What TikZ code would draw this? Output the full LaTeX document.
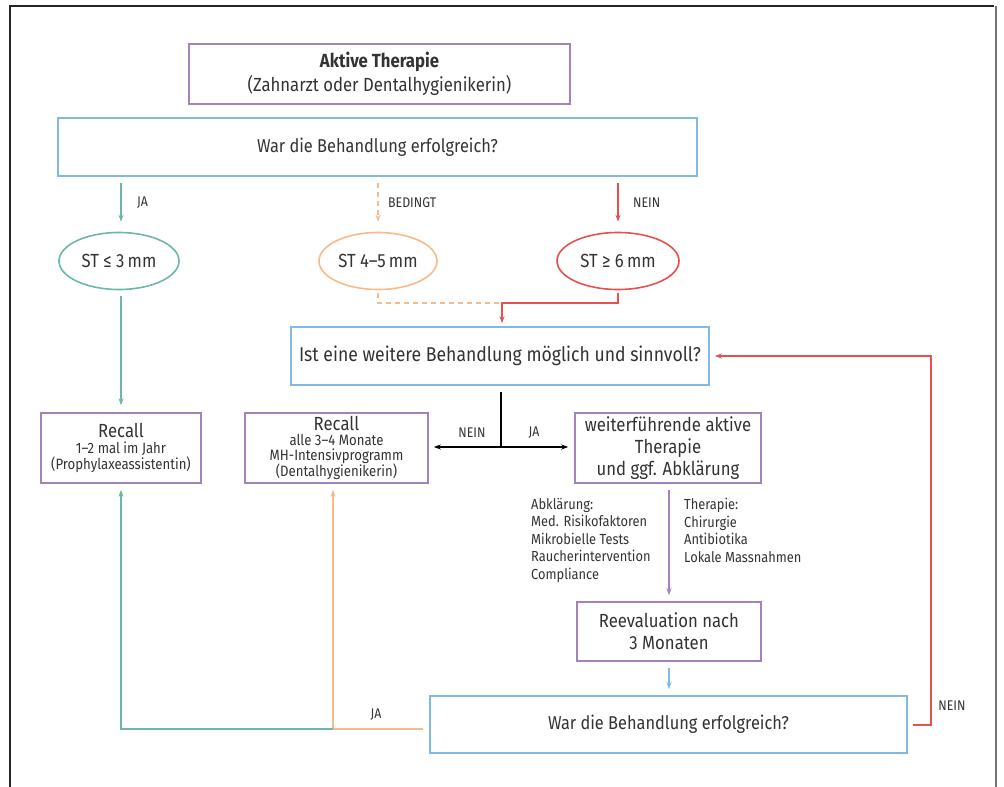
\documentclass[tikz,border=0pt]{standalone}
\usepackage{fontspec}
\setmainfont{Fira Sans}[FakeStretch=0.88]
\usetikzlibrary{arrows.meta,shapes.geometric}
\definecolor{cteal}{HTML}{6BB8A9}
\definecolor{corange}{HTML}{F8B98B}
\definecolor{cred}{HTML}{E8504F}
\definecolor{cblue}{HTML}{80B9E4}
\definecolor{cpurple}{HTML}{A283BE}
\definecolor{ctext}{HTML}{333333}
\tikzset{
  box/.style={draw=#1, line width=1.6pt, rectangle, text=ctext, align=center, inner sep=0pt},
  oval/.style={draw=#1, line width=1.6pt, ellipse, text=ctext, inner sep=0pt, font=\fontsize{19}{21}\selectfont},
  conn/.style={draw=#1, line width=1.6pt},
  arr/.style={conn=#1, -{Stealth[length=7pt,width=5pt]}},
  lbl/.style={text=ctext, font=\fontsize{14}{16}\selectfont, inner sep=0pt},
  main/.style={font=\fontsize{18.6}{22}\selectfont},
  listtxt/.style={text=ctext, align=left, anchor=north west, inner sep=0pt, font=\fontsize{14.6}{17.5}\selectfont},
}
\begin{document}
\begin{tikzpicture}[x=1pt,y=-1pt]
\useasboundingbox (0,0) rectangle (1004,787);
% frame
\draw[black!85, line width=1.4pt] (10,787) -- (10,6) -- (994,6);
\draw[black!55, line width=2pt] (996,6) -- (996,787);

% nodes
\node[box=cpurple, minimum width=381pt, minimum height=60pt, font=\fontsize{19}{24}\selectfont] (top) at (379.5,74)
  {\textbf{Aktive Therapie}\\(Zahnarzt oder Dentalhygienikerin)};
\node[box=cblue, main, minimum width=639pt, minimum height=58pt] (q1) at (377.5,147) {War die Behandlung erfolgreich?};
\node[oval=cteal, minimum width=120pt, minimum height=57pt] (e1) at (119,261) {ST ≤ 3\,mm};
\node[oval=corange, minimum width=118pt, minimum height=57pt] (e2) at (378,261) {ST 4–5\,mm};
\node[oval=cred, minimum width=122pt, minimum height=57pt] (e3) at (618,261) {ST ≥ 6\,mm};
\node[box=cblue, font=\fontsize{20}{22}\selectfont, minimum width=418pt, minimum height=58pt] (q2) at (500,356) {Ist eine weitere Behandlung möglich und sinnvoll?};
\node[box=cpurple, minimum width=160pt, minimum height=70pt, font=\fontsize{15}{16}\selectfont] (r1) at (121,448)
  {{\fontsize{19}{20}\selectfont Recall}\\1–2 mal im Jahr\\(Prophylaxeassistentin)};
\node[box=cpurple, minimum width=183pt, minimum height=70pt, font=\fontsize{15}{15}\selectfont] (r2) at (336.5,448)
  {{\fontsize{19}{19}\selectfont Recall}\\alle 3–4 Monate\\MH-Intensivprogramm\\(Dentalhygienikerin)};
\node[box=cpurple, minimum width=186pt, minimum height=70pt, font=\fontsize{19}{22}\selectfont] (wt) at (668,448)
  {weiterführende aktive\\Therapie\\und ggf. Abklärung};
\node[box=cpurple, minimum width=184pt, minimum height=59pt, font=\fontsize{19}{22}\selectfont] (re) at (669,631.5)
  {Reevaluation nach\\3 Monaten};
\node[box=cblue, main, minimum width=477pt, minimum height=57pt] (q3) at (668.5,724.5) {War die Behandlung erfolgreich?};

% lists
\node[listtxt] (la) at (531,498) {Abklärung:\\Med. Risikofaktoren\\Mikrobielle Tests\\Raucherintervention\\Compliance};
\node[listtxt] (lt) at (684,498) {Therapie:\\Chirurgie\\Antibiotika\\Lokale Massnahmen};

% coordinates
\coordinate (j) at (502,303);
\coordinate (b) at (501,447);
\coordinate (jo) at (333,729);
\coordinate (rr) at (931,725);

% connectors
\draw[arr=cteal, shorten <=6pt, shorten >=10pt] (q1.south -| r1.north) -- (e1.north -| r1.north);
\draw[arr=corange, dashed, dash pattern=on 5pt off 4pt, shorten <=6pt, shorten >=10pt] (q1.south -| e2.north) -- (e2.north);
\draw[arr=cred, shorten <=6pt, shorten >=10pt] (q1.south -| e3.north) -- (e3.north);
\node[lbl, anchor=west] (lja) at (137,203) {JA};
\node[lbl, anchor=west] (lbed) at (388,203) {BEDINGT};
\node[lbl, anchor=west] (lnein) at (633,203) {NEIN};

\draw[arr=cteal, shorten <=6pt, shorten >=7pt] (e1.south -| r1.north) -- (r1.north);
\draw[conn=corange, dashed, dash pattern=on 5pt off 4pt, shorten <=3pt] (e2.south) |- (j);
\draw[arr=cred, shorten <=3pt, shorten >=3pt] (e3.south) |- (j) -- (q2.north -| j);

\draw[conn=black, line width=1.6pt, shorten <=6pt] (q2.south -| b) -- (b);
\draw[conn=black, {Stealth[length=7pt,width=5pt]}-{Stealth[length=7pt,width=5pt]}, shorten <=5pt, shorten >=6pt] (r2.east |- b) -- (wt.west |- b);
\node[lbl] (lnein2) at (472,433) {NEIN};
\node[lbl] (lja2) at (534,433) {JA};

\draw[arr=cpurple, shorten <=6pt, shorten >=6pt] (wt.south -| re.north) -- (re.north);
\draw[arr=cblue, shorten <=6pt, shorten >=6pt] (re.south) -- (q3.north -| re.south);

\draw[arr=corange, shorten <=6pt, shorten >=6pt] (q3.west |- jo) -- (jo) -- (r2.south -| jo);
\draw[arr=cteal, shorten >=6pt] (jo) -| (r1.south);
\node[lbl] (lja3) at (376,715) {JA};

\draw[arr=cred, shorten <=5pt, shorten >=5pt] (q3.east |- rr) -- (rr) |- (q2.east);
\node[lbl] (lnein3) at (952,706) {NEIN};
\end{tikzpicture}
\end{document}
